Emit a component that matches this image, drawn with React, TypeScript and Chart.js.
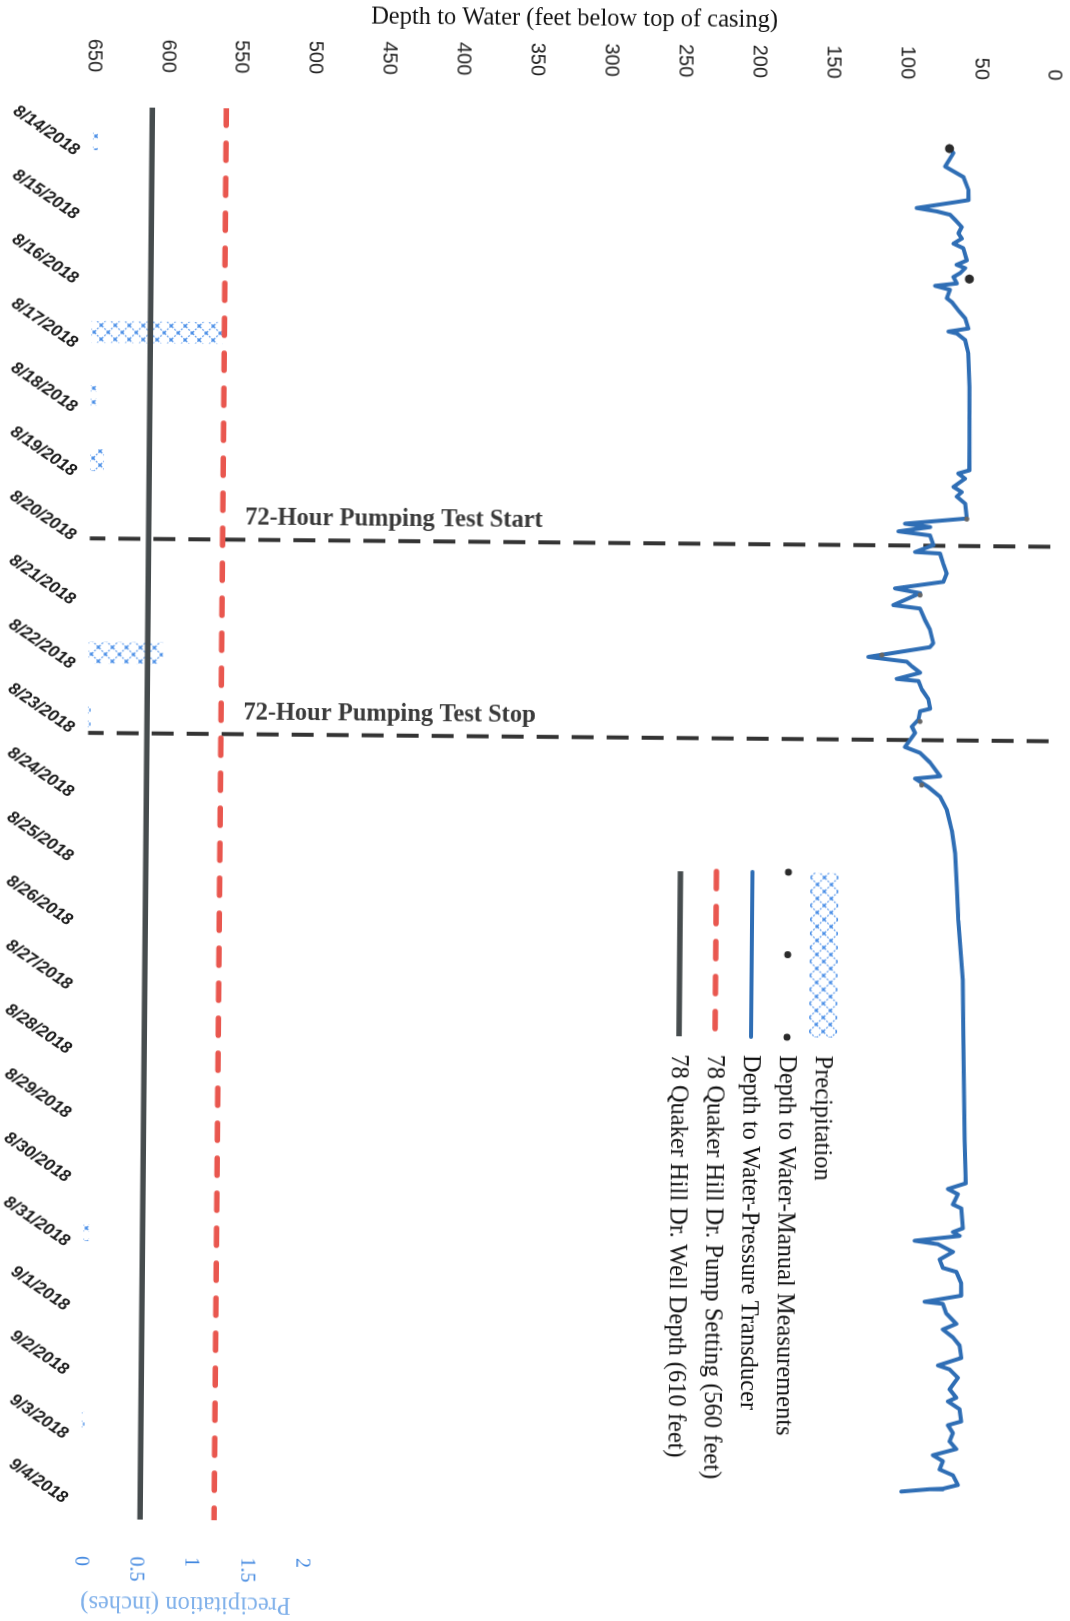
import React, { useEffect, useRef } from 'react';
import { Chart, registerables } from 'chart.js';

Chart.register(...registerables);

// ---------- data ----------
const dateLabels = [
  '8/14/2018', '8/15/2018', '8/16/2018', '8/17/2018', '8/18/2018', '8/19/2018',
  '8/20/2018', '8/21/2018', '8/22/2018', '8/23/2018', '8/24/2018', '8/25/2018',
  '8/26/2018', '8/27/2018', '8/28/2018', '8/29/2018', '8/30/2018', '8/31/2018',
  '9/1/2018', '9/2/2018', '9/3/2018', '9/4/2018',
];
const dayTicks = [0, 1, 2, 3, 4, 5, 6, 7, 8, 9, 10, 11, 12, 13, 14, 15, 16, 17, 18, 19, 20, 21];
const depthTicks = [0, 50, 100, 150, 200, 250, 300, 350, 400, 450, 500, 550, 600, 650];
const precipTicks = [0, 0.5, 1, 1.5, 2];
const precipTickLabels = ['0', '0.5', '1', '1.5', '2'];

// days after 8/14/2018 00:00
const precipDays = [0, 3, 4, 5, 8, 9, 17, 20];
const precipInches = [0.04, 1.19, 0.05, 0.12, 0.67, 0.02, 0.05, 0.02];

const manualDays = [0.03, 2.06, 5.8, 6.99, 7.93, 8.96, 9.95];
const manualDepth = [70.6, 56.3, 56.6, 87.8, 113.3, 87.1, 85.5];

const pressureDays = [
  0.03, 0.1, 0.31, 0.47, 0.67, 0.83, 0.86, 0.96, 1.01, 1.06,
  1.14, 1.25, 1.35, 1.43, 1.51, 1.58, 1.77, 1.84, 1.89, 1.97,
  2.03, 2.13, 2.17, 2.23, 2.36, 2.42, 2.55, 2.67, 2.83, 2.86,
  2.88, 2.91, 3.01, 3.22, 3.74, 5.04, 5.09, 5.17, 5.3, 5.38,
  5.45, 5.56, 5.79, 5.88, 5.93, 6.0, 6.06, 6.21, 6.32, 6.34,
  6.5, 6.65, 6.78, 6.89, 6.96, 7.15, 7.2, 7.38, 7.53, 7.74,
  7.8, 7.96, 8.03, 8.1, 8.2, 8.3, 8.33, 8.46, 8.61, 8.76,
  8.8, 8.93, 9.04, 9.14, 9.36, 9.45, 9.6, 9.81, 9.85, 9.98,
  10.13, 10.33, 10.65, 11.01, 11.53, 12.05, 12.98, 14.22, 15.47, 16.15,
  16.18, 16.24, 16.32, 16.48, 16.54, 16.85, 16.91, 16.97, 17.05, 17.1,
  17.22, 17.34, 17.47, 17.53, 17.71, 17.9, 18.0, 18.03, 18.18, 18.34,
  18.43, 18.55, 18.68, 18.87, 18.99, 19.05, 19.18, 19.36, 19.49, 19.55,
  19.67, 19.86, 19.92, 20.04, 20.17, 20.29, 20.39, 20.48, 20.61, 20.7,
  20.85, 20.91, 20.92, 20.96,
];
const pressureDepth = [
  70.6, 67.9, 73.4, 61.0, 57.5, 57.4, 65.3, 92.4, 78.8, 69.8,
  66.3, 61.8, 64.0, 61.7, 67.3, 60.6, 58.2, 65.0, 59.3, 62.7,
  67.2, 64.8, 79.5, 69.4, 71.5, 68.1, 63.6, 59.0, 56.7, 64.5,
  70.2, 64.5, 58.9, 56.6, 55.7, 55.2, 62.7, 58.1, 65.9, 60.2,
  63.6, 57.9, 56.6, 98.4, 81.4, 102.8, 81.4, 79.1, 91.4, 74.6,
  72.3, 69.9, 72.1, 104.8, 87.8, 105.8, 87.8, 84.3, 80.9, 78.6,
  80.8, 122.4, 96.4, 93.0, 87.3, 103.1, 88.4, 86.1, 81.6, 80.3,
  87.1, 88.2, 92.6, 90.4, 97.1, 86.8, 80.0, 73.2, 90.1, 81.1,
  73.1, 68.5, 65.0, 62.6, 61.2, 60.0, 56.6, 55.6, 54.5, 53.5,
  57.6, 65.5, 58.7, 62.0, 56.3, 55.1, 61.8, 57.3, 87.7, 72.0,
  61.7, 70.7, 68.4, 59.3, 55.9, 55.8, 80.6, 68.2, 65.8, 59.0,
  68.1, 61.2, 56.6, 55.4, 71.2, 63.3, 57.6, 63.2, 58.6, 64.2,
  56.3, 55.1, 64.1, 60.7, 62.9, 58.3, 74.1, 67.3, 69.5, 60.4,
  57.0, 67.1, 76.1, 95.3,
];

const pumpSettingFt = 560;
const wellDepthFt = 610;
const axisStartDay = -0.5;
const axisEndDay = 21.5;
const testStartDay = 6.22;
const testStopDay = 9.25;
const testLabels = ['72-Hour Pumping Test Start', '72-Hour Pumping Test Stop'];

const SERIF = "'Liberation Serif', 'Times New Roman', serif";
const SANS = "'Liberation Sans', Arial, sans-serif";
const BLUE = '#2f6eb5';
const RED = '#e9574f';
const DARK = '#464c4e';

function makeHatch(): CanvasPattern | string {
  const n = 14;
  const c = document.createElement('canvas');
  c.width = n;
  c.height = n;
  const g = c.getContext('2d');
  if (!g) return '#a9c9f2';
  g.strokeStyle = 'rgba(85,150,235,0.9)';
  g.lineWidth = 1.3;
  g.setLineDash([2, 1.4]);
  g.beginPath();
  g.moveTo(0, 0);
  g.lineTo(n, n);
  g.moveTo(n, 0);
  g.lineTo(0, n);
  g.stroke();
  g.fillStyle = '#4a8ee6';
  const h = n / 2;
  g.fillRect(h - 1.4, h - 1.4, 2.8, 2.8);
  g.fillRect(0, 0, 1.4, 1.4);
  g.fillRect(n - 1.4, 0, 1.4, 1.4);
  g.fillRect(0, n - 1.4, 1.4, 1.4);
  g.fillRect(n - 1.4, n - 1.4, 1.4, 1.4);
  return g.createPattern(c, 'repeat') || '#a9c9f2';
}

export default function App() {
  const ref = useRef<HTMLCanvasElement | null>(null);

  useEffect(() => {
    const canvas = ref.current;
    if (!canvas) return;
    const hatch = makeHatch();

    const legendPlugin = {
      id: 'insideLegend',
      afterDraw(chart: any) {
        const { ctx, chartArea } = chart;
        const x0 = chartArea.left + 759;
        const x1 = x0 + 165;
        const tx = x1 + 18;
        const y0 = chartArea.top + 223;
        const step = 36;
        const order = [6, 0, 1, 2, 3];
        ctx.save();
        order.forEach((dsIndex, i) => {
          const ds = chart.data.datasets[dsIndex];
          const yy = y0 + i * step;
          if (dsIndex === 6) {
            ctx.fillStyle = hatch;
            ctx.fillRect(x0, yy - 14, x1 - x0, 28);
          } else if (dsIndex === 0) {
            ctx.fillStyle = '#2b2b2b';
            [x0, (x0 + x1) / 2, x1].forEach((px) => {
              ctx.beginPath();
              ctx.arc(px, yy, 3.5, 0, Math.PI * 2);
              ctx.fill();
            });
          } else {
            ctx.strokeStyle = ds.borderColor;
            ctx.lineWidth = ds.borderWidth;
            ctx.lineCap = ds.borderCapStyle || 'butt';
            ctx.setLineDash(ds.borderDash || []);
            ctx.beginPath();
            ctx.moveTo(x0, yy);
            ctx.lineTo(x1, yy);
            ctx.stroke();
            ctx.setLineDash([]);
          }
          ctx.fillStyle = '#111';
          ctx.font = `24.5px ${SERIF}`;
          ctx.textAlign = 'left';
          ctx.textBaseline = 'middle';
          ctx.fillText(ds.label, tx, yy + 1);
        });
        ctx.restore();
      },
    };

    const annotationPlugin = {
      id: 'testLabels',
      afterDraw(chart: any) {
        const { ctx } = chart;
        const xs = chart.scales.x;
        const ys = chart.scales.y;
        ctx.save();
        ctx.font = `bold 24.5px ${SERIF}`;
        ctx.fillStyle = '#3a3a3a';
        ctx.textAlign = 'left';
        ctx.textBaseline = 'alphabetic';
        [testStartDay, testStopDay].forEach((d, i) => {
          const px = xs.getPixelForValue(d) - 15;
          const py = ys.getPixelForValue(545);
          ctx.save();
          ctx.translate(px, py);
          ctx.rotate(-Math.PI / 2);
          ctx.fillText(testLabels[i], 0, 0);
          ctx.restore();
        });
        ctx.restore();
      },
    };

    const chart = new Chart(canvas, {
      type: 'line',
      data: {
        datasets: [
          {
            label: 'Depth to Water-Manual Measurements',
            data: manualDays.map((d, i) => ({ x: d, y: manualDepth[i] })),
            showLine: false,
            pointRadius: [4.5, 4.5, 2.5, 2.5, 2.5, 2.5, 2.5],
            pointBackgroundColor: ['#2b2b2b', '#2b2b2b', '#666', '#666', '#666', '#666', '#666'],
            pointBorderWidth: 0,
            borderColor: '#2b2b2b',
            yAxisID: 'y',
          },
          {
            label: 'Depth to Water-Pressure Transducer',
            data: pressureDays.map((d, i) => ({ x: d, y: pressureDepth[i] })),
            borderColor: BLUE,
            borderWidth: 4,
            pointRadius: 0,
            tension: 0,
            borderJoinStyle: 'round',
            borderCapStyle: 'round',
            yAxisID: 'y',
          },
          {
            label: '78 Quaker Hill Dr. Pump Setting (560 feet)',
            data: [
              { x: axisStartDay, y: pumpSettingFt },
              { x: axisEndDay, y: pumpSettingFt },
            ],
            borderColor: RED,
            borderWidth: 5.5,
            borderDash: [17, 18],
            borderCapStyle: 'round',
            pointRadius: 0,
            yAxisID: 'y',
          },
          {
            label: '78 Quaker Hill Dr. Well Depth (610 feet)',
            data: [
              { x: axisStartDay, y: wellDepthFt },
              { x: axisEndDay, y: wellDepthFt },
            ],
            borderColor: DARK,
            borderWidth: 5.5,
            pointRadius: 0,
            yAxisID: 'y',
          },
          {
            label: 'Test Start',
            data: [
              { x: testStartDay, y: 0 },
              { x: testStartDay, y: 650 },
            ],
            borderColor: '#333',
            borderWidth: 4,
            borderDash: [22, 13],
            pointRadius: 0,
            yAxisID: 'y',
          },
          {
            label: 'Test Stop',
            data: [
              { x: testStopDay, y: 0 },
              { x: testStopDay, y: 650 },
            ],
            borderColor: '#333',
            borderWidth: 4,
            borderDash: [22, 13],
            pointRadius: 0,
            yAxisID: 'y',
          },
          {
            type: 'bar',
            label: 'Precipitation',
            data: precipDays.map((d, i) => ({ x: d, y: precipInches[i] })),
            backgroundColor: hatch,
            borderWidth: 0,
            barThickness: 21,
            yAxisID: 'y2',
          } as any,
        ],
      },
      options: {
        animation: false,
        responsive: false,
        maintainAspectRatio: false,
        devicePixelRatio: 1,
        layout: { padding: { top: 22, left: 0, right: 0, bottom: 0 } },
        plugins: {
          legend: { display: false },
          tooltip: { enabled: false },
        },
        scales: {
          x: {
            type: 'linear',
            position: 'bottom',
            min: axisStartDay,
            max: axisEndDay,
            offset: false,
            grid: { display: false, drawTicks: false },
            border: { display: false },
            afterBuildTicks: (s: any) => {
              s.ticks = dayTicks.map((v) => ({ value: v }));
            },
            afterFit: (s: any) => {
              s.height = 87.2;
              s.paddingLeft = 0;
              s.paddingRight = 0;
            },
            ticks: {
              autoSkip: false,
              minRotation: 56,
              maxRotation: 56,
              padding: 10,
              labelOffset: 13,
              color: '#1c1c1c',
              font: { family: SANS, size: 17, weight: 'bold', style: 'italic' },
              callback: (value: any) => dateLabels[dayTicks.indexOf(Number(value))] ?? '',
            },
          },
          y: {
            type: 'linear',
            position: 'left',
            reverse: true,
            min: 0,
            max: 650,
            grid: { display: false, drawTicks: false },
            border: { display: false },
            afterBuildTicks: (s: any) => {
              s.ticks = depthTicks.map((v) => ({ value: v }));
            },
            afterFit: (s: any) => {
              s.width = 111;
              s.paddingTop = 0;
              s.paddingBottom = 0;
            },
            ticks: {
              padding: 35,
              color: '#222',
              font: { family: SANS, size: 20 },
              callback: (value: any) => String(value),
            },
            title: {
              display: true,
              text: 'Depth to Water (feet below top of casing)',
              color: '#111',
              font: { family: SERIF, size: 24.5 },
              padding: { top: 4, bottom: 0 },
            },
          },
          y2: {
            type: 'linear',
            position: 'right',
            min: 0,
            max: 8.7,
            grid: { display: false, drawTicks: false },
            border: { display: false },
            afterBuildTicks: (s: any) => {
              s.ticks = precipTicks.map((v) => ({ value: v }));
            },
            afterFit: (s: any) => {
              s.width = 98;
              s.paddingTop = 0;
              s.paddingBottom = 0;
            },
            ticks: {
              padding: 37,
              color: '#3f86df',
              font: { family: SERIF, size: 20 },
              callback: (value: any) => precipTickLabels[precipTicks.indexOf(Number(value))] ?? '',
            },
            title: {
              display: true,
              text: 'Precipitation (inches)',
              align: 'start',
              color: '#7fb0ea',
              font: { family: SERIF, size: 24.5 },
              padding: { top: 0, bottom: 0 },
            },
          },
        },
      } as any,
      plugins: [legendPlugin, annotationPlugin],
    });

    return () => {
      chart.destroy();
    };
  }, []);

  return (
    <div
      style={{
        position: 'absolute',
        left: 0,
        top: 0,
        width: 1070,
        height: 1621,
        overflow: 'hidden',
        background: '#fff',
      }}
    >
      <canvas
        ref={ref}
        width={1621}
        height={1070}
        style={{
          position: 'absolute',
          left: 0,
          top: 0,
          width: 1621,
          height: 1070,
          transformOrigin: '50% 50%',
          transform: 'translate(-275.5px, 275.5px) rotate(90.5deg)',
        }}
      />
    </div>
  );
}
